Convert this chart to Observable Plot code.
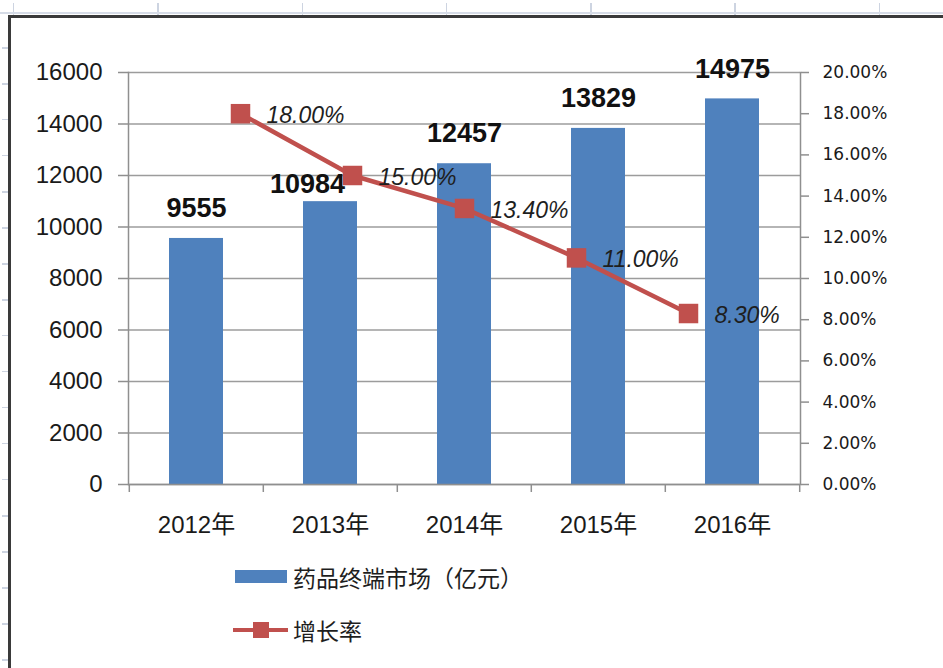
<!DOCTYPE html>
<html>
<head>
<meta charset="utf-8">
<script src="https://cdn.jsdelivr.net/npm/d3@7"></script>
<script src="https://cdn.jsdelivr.net/npm/@observablehq/plot@0.6"></script>
<style>
  body { margin: 0; background: #fff; }
  #wrap { position: relative; width: 943px; height: 668px; overflow: hidden; background: #fff; }
  #wrap svg { position: absolute; left: 0; top: 0; }
  .deco { position: absolute; }
  .leg-row { position: absolute; left: 233px; height: 40px; display: flex; align-items: center;
             font-family: "Noto Sans CJK SC", sans-serif; font-size: 23px; color: #1e1e1e; }
  .leg-row svg { position: static !important; }
  .leg-row span { margin-left: 4px; }
</style>
</head>
<body>
<div id="wrap">
  <div class="deco" style="left:0;top:3px;width:943px;height:12px;background:repeating-linear-gradient(to right,#cdd4e1 0 1.5px,transparent 1.5px 144.3px);background-position:13px 0;"></div>
  <div class="deco" style="left:0;top:12px;width:943px;height:1.5px;background:#d6dce7;"></div>
  <div class="deco" style="left:2px;top:47px;width:7px;height:621px;background:repeating-linear-gradient(to bottom,#cdd4e1 0 1.5px,transparent 1.5px 36px);"></div>
  <div class="deco" style="left:8px;top:15px;width:935px;height:2.5px;background:#3a3a3a;"></div>
  <div class="deco" style="left:8px;top:15px;width:3px;height:653px;background:#3a3a3a;"></div>
  <div id="chart"></div>
  <div id="legend"></div>
</div>
<script>
// ---- data ----
const years = ["2012年", "2013年", "2014年", "2015年", "2016年"];
const market = [9555, 10984, 12457, 13829, 14975];
const growth = [0.18, 0.15, 0.134, 0.11, 0.083];
const leftTicks = [0, 2000, 4000, 6000, 8000, 10000, 12000, 14000, 16000];
const rightTicks = [0, 0.02, 0.04, 0.06, 0.08, 0.10, 0.12, 0.14, 0.16, 0.18, 0.20];
const seriesNames = ["药品终端市场（亿元）", "增长率"];

const data = years.map((year, i) => ({year, market: market[i], growth: growth[i]}));

// ---- layout ----
const W = 943, H = 560, mL = 128, mR = 143, mT = 72, mB = 76;
const step = (W - mL - mR) / years.length;
const barColor = "#4F81BD", lineColor = "#C0504D", axisColor = "#8f8f8f";
const baseFont = "'Liberation Sans','Noto Sans CJK SC',sans-serif";
const pct = d => (d * 100).toFixed(2) + "%";

const barPlot = Plot.plot({
  width: W, height: H, marginLeft: mL, marginRight: mR, marginTop: mT, marginBottom: mB,
  style: {fontFamily: baseFont, background: "transparent", overflow: "visible", color: "#1a1a1a"},
  x: {type: "band", domain: years, paddingInner: 0.6, paddingOuter: 0.3},
  y: {domain: [0, 16000]},
  marks: [
    Plot.gridY(leftTicks, {stroke: "#9c9c9c", strokeOpacity: 1, strokeWidth: 1.5}),
    Plot.barY(data, {x: "year", y: "market", fill: barColor}),
    Plot.frame({anchor: "left", stroke: axisColor, strokeWidth: 1.5}),
    Plot.ruleY([0], {stroke: axisColor, strokeWidth: 1.5}),
    Plot.ruleX(years, {x: d => d, dx: -step / 2, y1: 0, y2: -310, stroke: axisColor, strokeWidth: 1.5}),
    Plot.ruleX(years.slice(-1), {x: d => d, dx: step / 2, y1: 0, y2: -310, stroke: axisColor, strokeWidth: 1.5}),
    Plot.axisY(leftTicks, {tickSize: 10, tickPadding: 16, fontSize: 24, label: null, tickFormat: d => String(d),
      stroke: axisColor, strokeWidth: 1.5}),
    Plot.axisX({tickSize: 0, tickPadding: 31, fontSize: 24, label: null}),
    Plot.text(data.filter(d => d.year !== years[1]), {
      x: "year", y: "market", text: d => String(d.market), dy: -30,
      fontSize: 27, fontWeight: "bold", fill: "#111"
    }),
    Plot.text(data.filter(d => d.year === years[1]), {
      x: "year", y: "market", text: d => String(d.market), dx: -23, dy: -17,
      fontSize: 27, fontWeight: "bold", fill: "#111"
    })
  ]
});

const linePlot = Plot.plot({
  width: W, height: H, marginLeft: mL, marginRight: mR, marginTop: mT, marginBottom: mB,
  style: {fontFamily: baseFont, background: "transparent", overflow: "visible", color: "#1a1a1a"},
  x: {type: "point", domain: years, range: [239.5, 688.5], padding: 0, axis: null},
  y: {domain: [0, 0.2]},
  marks: [
    Plot.frame({anchor: "right", stroke: axisColor, strokeWidth: 1.5}),
    Plot.axisY(rightTicks, {anchor: "right", tickSize: 8, tickPadding: 14, tickFormat: pct,
      fontSize: 17, fontFamily: "'DejaVu Sans',sans-serif", label: null, stroke: axisColor, strokeWidth: 1.5}),
    Plot.line(data, {x: "year", y: "growth", stroke: lineColor, strokeWidth: 4.5}),
    Plot.dot(data, {x: "year", y: "growth", symbol: "square", r: 11, fill: lineColor, stroke: "none"}),
    Plot.text(data, {x: "year", y: "growth", text: d => pct(d.growth), textAnchor: "start",
      dx: 26, dy: 2, fontSize: 23, fontStyle: "italic", fill: "#1e1e1e"})
  ]
});

const chart = document.getElementById("chart");
chart.appendChild(barPlot);
chart.appendChild(linePlot);

// ---- legend (below the SVG area) ----
const legend = document.getElementById("legend");
const rowTops = [557, 610];
seriesNames.forEach((name, i) => {
  const row = document.createElement("div");
  row.className = "leg-row";
  row.style.top = rowTops[i] + "px";
  const sw = i === 0
    ? `<svg width="56" height="40"><rect x="2" y="13" width="52" height="13" fill="${barColor}"/></svg>`
    : `<svg width="56" height="40"><line x1="0" x2="55" y1="20" y2="20" stroke="${lineColor}" stroke-width="4"/><rect x="20" y="12" width="16" height="16" fill="${lineColor}"/></svg>`;
  row.innerHTML = sw + `<span>${name}</span>`;
  legend.appendChild(row);
});
</script>
</body>
</html>
